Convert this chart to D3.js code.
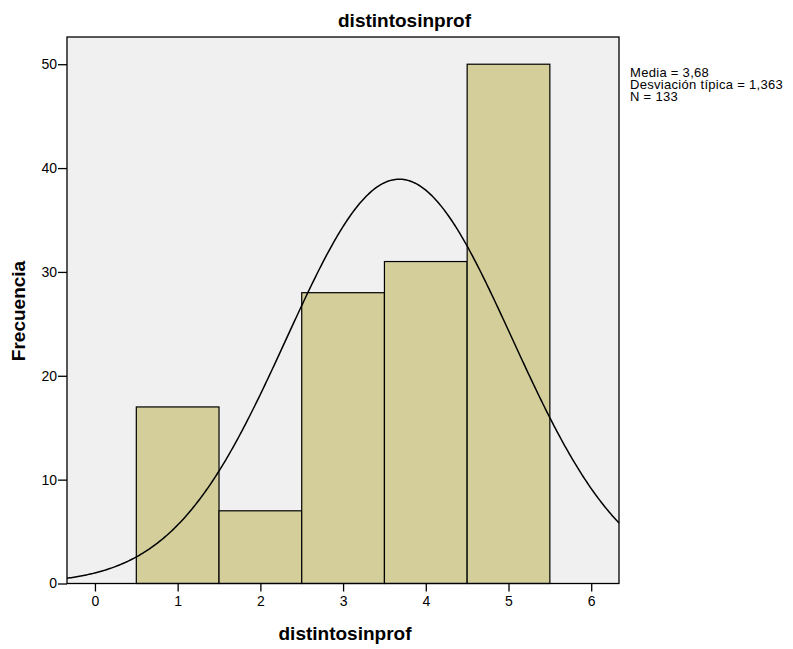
<!DOCTYPE html>
<html><head><meta charset="utf-8">
<script src="https://cdn.jsdelivr.net/npm/d3@7"></script>
<style>body{margin:0;background:#fff;font-family:"Liberation Sans",Arial,sans-serif}</style>
</head><body>
<script>
const categories = [1, 2, 3, 4, 5];
const frequencies = [17, 7, 28, 31, 50];
const xTicks = [0, 1, 2, 3, 4, 5, 6];
const yTicks = [0, 10, 20, 30, 40, 50];
const mean = 3.68, sd = 1.363, n = 133, binWidth = 1;
const statsLines = ["Media = 3,68", "Desviación típica = 1,363", "N = 133"];

const W = 793, H = 649;
const L = 67, R = 619, T = 37, B = 583.5;
const svg = d3.select("body").append("svg").attr("width", W).attr("height", H);

const x = d3.scaleLinear().domain([-0.338, 6.336]).range([L, R]);
const y = d3.scaleLinear().domain([0, 52.62]).range([B, T]);

svg.append("rect").attr("x", L).attr("y", T).attr("width", R - L).attr("height", B - T)
  .attr("fill", "#f0f0f0");

svg.append("g").selectAll("rect").data(categories).join("rect")
  .attr("x", d => x(d - binWidth / 2)).attr("width", d => x(d + binWidth / 2) - x(d - binWidth / 2))
  .attr("y", (d, i) => y(frequencies[i])).attr("height", (d, i) => y(0) - y(frequencies[i]))
  .attr("fill", "#d3ce9a").attr("stroke", "#000").attr("stroke-width", 1.2);

// fitted normal curve from the stated mean / sd / N
const pdf = v => n * binWidth / (sd * Math.sqrt(2 * Math.PI)) * Math.exp(-0.5 * ((v - mean) / sd) ** 2);
const xs = d3.range(0, 401).map(i => x.domain()[0] + (x.domain()[1] - x.domain()[0]) * i / 400);
svg.append("path").datum(xs)
  .attr("d", d3.line().x(v => x(v)).y(v => y(pdf(v))))
  .attr("fill", "none").attr("stroke", "#000").attr("stroke-width", 1.5);

svg.append("rect").attr("x", L).attr("y", T).attr("width", R - L).attr("height", B - T)
  .attr("fill", "none").attr("stroke", "#000").attr("stroke-width", 1.3);

const xAxis = svg.append("g").attr("transform", `translate(0,${B})`)
  .call(d3.axisBottom(x).tickValues(xTicks).tickSize(8).tickPadding(5).tickFormat(d3.format("d")));
const yAxis = svg.append("g").attr("transform", `translate(${L},0)`)
  .call(d3.axisLeft(y).tickValues(yTicks).tickSize(9).tickPadding(1).tickFormat(d3.format("d")));
[xAxis, yAxis].forEach(a => {
  a.select(".domain").remove();
  a.selectAll("line").attr("stroke", "#000").attr("stroke-width", 1.3);
  a.selectAll("text").attr("fill", "#000").style("font-size", "14px")
    .style("font-family", "'Liberation Sans', Arial, sans-serif");
});

svg.append("text").attr("x", 404.5).attr("y", 27).attr("text-anchor", "middle")
  .style("font-size", "19px").style("font-weight", "bold").text("distintosinprof");
svg.append("text").attr("x", 345).attr("y", 640).attr("text-anchor", "middle")
  .style("font-size", "19px").style("font-weight", "bold").text("distintosinprof");
svg.append("text").attr("transform", `translate(25,311) rotate(-90)`)
  .attr("text-anchor", "middle").style("font-size", "19px").style("font-weight", "bold").text("Frecuencia");

svg.append("g").selectAll("text").data(statsLines).join("text")
  .attr("x", 630).attr("y", (d, i) => 77 + i * 12)
  .style("font-size", "13px").style("letter-spacing", "0.3px").text(d => d);
</script>
</body></html>
